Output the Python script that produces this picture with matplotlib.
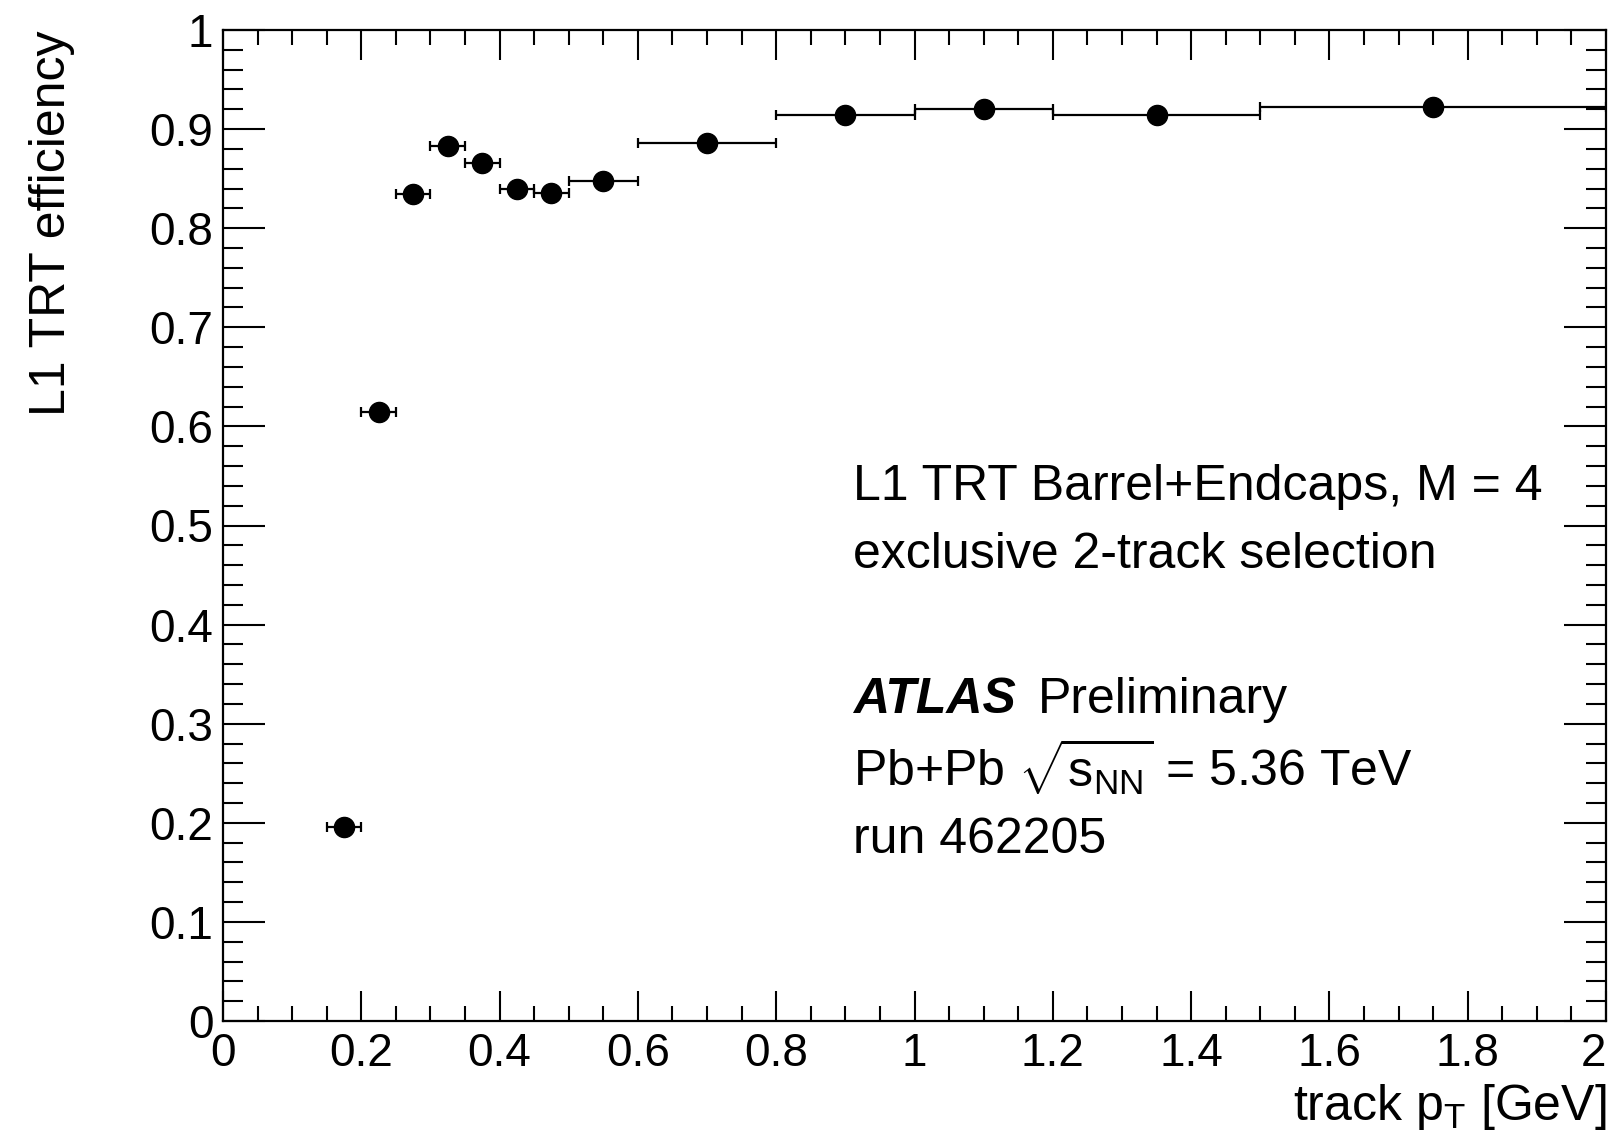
import matplotlib
matplotlib.use("Agg")
import matplotlib.pyplot as plt
import numpy as np

plt.rcParams['font.family'] = ['Liberation Sans', 'DejaVu Sans']
plt.rcParams['mathtext.fontset'] = 'custom'
plt.rcParams['mathtext.rm'] = 'Liberation Sans'
plt.rcParams['mathtext.it'] = 'Liberation Sans:italic'
plt.rcParams['mathtext.bf'] = 'Liberation Sans:bold'

# Data
bin_low = [0.15, 0.20, 0.25, 0.30, 0.35, 0.40, 0.45, 0.50, 0.60, 0.80, 1.00, 1.20, 1.50]
bin_high = [0.20, 0.25, 0.30, 0.35, 0.40, 0.45, 0.50, 0.60, 0.80, 1.00, 1.20, 1.50, 2.00]
efficiency = [0.196, 0.615, 0.835, 0.883, 0.866, 0.840, 0.836, 0.848, 0.886, 0.914, 0.920, 0.914, 0.922]
x_ticks = [0, 0.2, 0.4, 0.6, 0.8, 1.0, 1.2, 1.4, 1.6, 1.8, 2.0]
x_tick_labels = ['0', '0.2', '0.4', '0.6', '0.8', '1', '1.2', '1.4', '1.6', '1.8', '2']
y_ticks = [0, 0.1, 0.2, 0.3, 0.4, 0.5, 0.6, 0.7, 0.8, 0.9, 1.0]
y_tick_labels = ['0', '0.1', '0.2', '0.3', '0.4', '0.5', '0.6', '0.7', '0.8', '0.9', '1']

lo = np.array(bin_low)
hi = np.array(bin_high)
xc = 0.5 * (lo + hi)
xerr = 0.5 * (hi - lo)

fig = plt.figure(figsize=(16.14, 11.43), dpi=100)
ax = fig.add_axes([223/1614, 1 - 1021/1143, 1383/1614, 991/1143])

ax.errorbar(xc, efficiency, xerr=xerr, fmt='o', color='black', markersize=14.5,
            elinewidth=1.6, capsize=3.5, capthick=1.6, zorder=3)

ax.set_xlim(0, 2)
ax.set_ylim(0, 1)
ax.set_xticks(x_ticks)
ax.set_xticklabels(x_tick_labels)
ax.set_yticks(y_ticks)
ax.set_yticklabels(y_tick_labels)
ax.set_xticks(np.arange(0, 2.0001, 0.05), minor=True)
ax.set_yticks(np.arange(0, 1.0001, 0.02), minor=True)

for sp in ax.spines.values():
    sp.set_linewidth(1.6)

ax.tick_params(axis='both', which='both', direction='in', top=True, right=True,
               width=1.5, labelsize=33)
ax.tick_params(axis='y', which='major', length=30, pad=7)
ax.tick_params(axis='y', which='minor', length=14.5)
ax.tick_params(axis='x', which='major', length=21.5, pad=8)
ax.tick_params(axis='x', which='minor', length=10.8)

# keep the last x label inside the canvas, like ROOT does
xlabels = ax.get_xticklabels()
xlabels[-1].set_horizontalalignment('right')

fs = 36
ax.text(-0.124, 1.0, 'L1 TRT efficiency', rotation=90, ha='center', va='top',
        fontsize=fs, transform=ax.transAxes)
ax.text(1.0, -0.0999, r'track p$_{\mathrm{T}}$ [GeV]', ha='right', va='baseline',
        fontsize=fs, transform=ax.transAxes)

tx = (853 - 223) / 1383
ax.text(tx, (1021 - 500) / 991, 'L1 TRT Barrel+Endcaps, M = 4', fontsize=fs,
        ha='left', va='baseline', transform=ax.transAxes)
ax.text(tx, (1021 - 568) / 991, 'exclusive 2-track selection', fontsize=fs,
        ha='left', va='baseline', transform=ax.transAxes)
t1 = ax.text(tx, (1021 - 713) / 991, 'ATLAS', fontsize=fs, fontweight='bold',
             fontstyle='italic', ha='left', va='baseline', transform=ax.transAxes)
ax.annotate('Preliminary', xy=(1, 0), xycoords=t1, xytext=(16, 0),
            textcoords='offset points', fontsize=fs, ha='left', va='bottom')
ax.text(tx, (1021 - 787) / 991, r'Pb+Pb $\sqrt{\mathrm{s}_{\mathrm{NN}}}$ = 5.36 TeV',
        fontsize=fs, ha='left', va='baseline', transform=ax.transAxes)
ax.text(tx, (1021 - 853) / 991, 'run 462205', fontsize=fs,
        ha='left', va='baseline', transform=ax.transAxes)

fig.savefig('out.png', dpi=100)
